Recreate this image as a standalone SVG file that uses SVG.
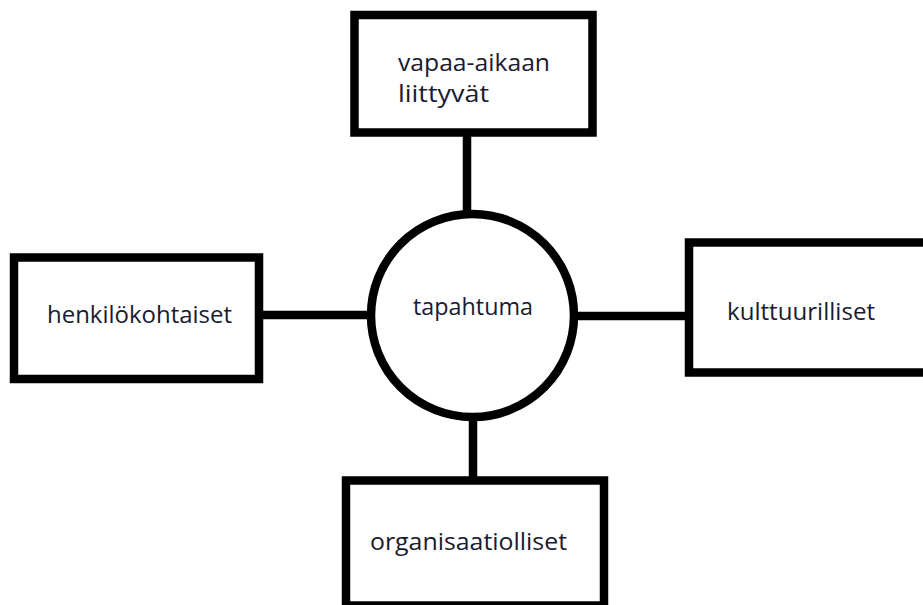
<svg xmlns="http://www.w3.org/2000/svg" width="923" height="605" viewBox="0 0 923 605">
<style>
.box{fill:#fff;stroke:#000;stroke-width:8.5}
.conn{stroke:#000;stroke-width:8.5;fill:none}
.lbl{font-family:"Open Sans","Noto Sans",sans-serif;font-size:23px;fill:#1a1a30}
</style>
<rect width="923" height="605" fill="#fff"/>
<g id="connectors">
<line class="conn" x1="467" y1="136" x2="467" y2="216"/>
<line class="conn" x1="262" y1="315" x2="372" y2="315"/>
<line class="conn" x1="574" y1="316" x2="690" y2="316"/>
<line class="conn" x1="473" y1="416" x2="473" y2="486"/>
</g>
<g id="vapaa">
<rect class="box" x="354.5" y="15" width="238" height="117.5"/>
<text class="lbl" x="398" y="71" textLength="152" lengthAdjust="spacingAndGlyphs">vapaa-aikaan</text>
<text class="lbl" x="398" y="102" textLength="91" lengthAdjust="spacingAndGlyphs">liittyvät</text>
</g>
<g id="henkilokohtaiset">
<rect class="box" x="14" y="257.5" width="245" height="121.5"/>
<text class="lbl" x="47" y="323" textLength="185" lengthAdjust="spacingAndGlyphs">henkilökohtaiset</text>
</g>
<g id="tapahtuma">
<circle cx="472.5" cy="315.5" r="101.5" fill="#fff" stroke="#000" stroke-width="8.5"/>
<text class="lbl" x="413" y="315" textLength="120" lengthAdjust="spacingAndGlyphs">tapahtuma</text>
</g>
<g id="kulttuurilliset">
<rect class="box" x="689" y="242.5" width="260" height="130"/>
<text class="lbl" x="727" y="320" textLength="148" lengthAdjust="spacingAndGlyphs">kulttuurilliset</text>
</g>
<g id="organisaatiolliset">
<rect class="box" x="346" y="480.5" width="258" height="125"/>
<text class="lbl" x="370" y="550" textLength="197" lengthAdjust="spacingAndGlyphs">organisaatiolliset</text>
</g>
</svg>
